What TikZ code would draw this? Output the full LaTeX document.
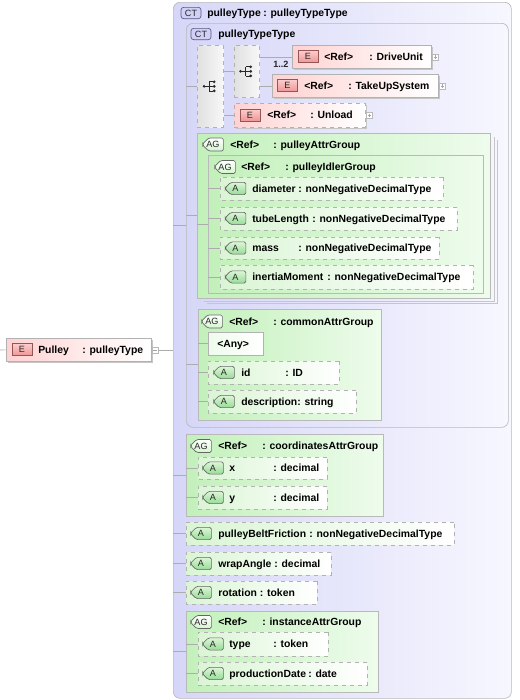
\documentclass[tikz,border=0pt]{standalone}
\usepackage{fontspec}
\setmainfont{Liberation Sans}
\usepackage{tikz}
\usetikzlibrary{shapes.misc, shadows}
\definecolor{ctleft}{RGB}{214,214,248}
\definecolor{ctright}{RGB}{247,247,255}
\definecolor{agleft}{RGB}{194,240,186}
\definecolor{agright}{RGB}{238,252,236}
\definecolor{aleft}{RGB}{218,245,212}
\definecolor{eleft}{RGB}{255,210,210}
\definecolor{ebadgetop}{RGB}{252,205,205}
\definecolor{ebadgebot}{RGB}{238,150,150}
\definecolor{ebadgeline}{RGB}{150,85,85}
\definecolor{abadgetop}{RGB}{220,246,215}
\definecolor{abadgebot}{RGB}{150,220,150}
\definecolor{ctbadgefill}{RGB}{208,208,246}
\definecolor{ctbadgeline}{RGB}{90,90,130}
\definecolor{iconink}{RGB}{40,40,40}
\tikzset{
    boxsize/.style 2 args={anchor=north west, inner sep=0pt, minimum width=#1*0.75pt, minimum height=#2*0.75pt},
    wire/.style={draw=gray!65, line width=0.5pt},
    frame/.style={draw=gray!45, line width=0.5pt},
    txt/.style={anchor=mid west, inner sep=0pt, font=\fontsize{7.8}{9}\selectfont\bfseries, text=black},
    card/.style={anchor=mid west, inner sep=0pt, font=\fontsize{6.8}{8}\selectfont\bfseries, text=black!85},
    ctbox/.style={rectangle, rounded corners=5pt, draw=gray!55, line width=0.5pt, left color=ctleft, right color=ctright},
    agbox/.style={chamfered rectangle, chamfered rectangle corners={north west, south west}, chamfered rectangle xsep=4.5pt, chamfered rectangle ysep=4.5pt, draw=gray!55, line width=0.5pt, left color=agleft, right color=agright},
    abox/.style={chamfered rectangle, chamfered rectangle corners={north west, south west}, chamfered rectangle xsep=2.8pt, chamfered rectangle ysep=4.5pt, draw=gray!60, dashed, line width=0.5pt, left color=aleft, right color=white},
    anybox/.style={abox, solid, left color=agright, right color=white},
    ebox/.style={rectangle, draw=gray!60, line width=0.5pt, left color=eleft, right color=white, drop shadow={shadow xshift=1.1pt, shadow yshift=-1.1pt, fill=gray!45, opacity=1}},
    eboxopt/.style={ebox, dashed},
    seqbox/.style={rectangle, draw=gray!60, dashed, line width=0.5pt, left color=gray!24, right color=gray!6,
        path picture={
            \coordinate (ic) at (path picture bounding box.center);
            \draw[solid, draw=iconink, line width=0.5pt]
                ([xshift=-4.5pt]ic) -- ([xshift=-0.8pt]ic)
                ([xshift=-0.8pt, yshift=3.4pt]ic) -- ([xshift=-0.8pt, yshift=-3.4pt]ic);
            \fill[iconink] ([xshift=-4.7pt]ic) circle (1.1pt);
            \foreach \d in {-3.4,0,3.4} {
                \draw[solid, draw=iconink, line width=0.5pt] ([xshift=-0.8pt, yshift=\d pt]ic) -- ([xshift=2pt, yshift=\d pt]ic);
                \fill[iconink] ([xshift=2.9pt, yshift=\d pt]ic) circle (1.1pt);
            }}},
    ebadge/.style={rectangle, draw=ebadgeline, line width=0.5pt, top color=ebadgetop, bottom color=ebadgebot, minimum width=15pt, minimum height=9pt, inner sep=0pt, font=\fontsize{6.8}{7}\selectfont, text=black!85},
    abadge/.style={chamfered rectangle, chamfered rectangle corners={north west, south west}, chamfered rectangle xsep=2pt, chamfered rectangle ysep=2.5pt, rounded corners=1.2pt, draw=black!60, line width=0.5pt, top color=abadgetop, bottom color=abadgebot, minimum width=15.5pt, minimum height=9pt, inner sep=0pt, font=\fontsize{6.8}{7}\selectfont, text=black!85},
    agbadge/.style={abadge, top color=white, bottom color=agleft!70!white, minimum height=8pt},
    ctbadge/.style={rectangle, rounded corners=2pt, draw=ctbadgeline, line width=0.5pt, fill=ctbadgefill, minimum width=15pt, minimum height=8.5pt, inner sep=0pt, font=\fontsize{6.8}{7}\selectfont, text=black!85},
    expander/.style={rectangle, draw=gray!55, fill=white, line width=0.4pt, minimum size=4.6pt, inner sep=0pt},
    plusbox/.style={expander, path picture={\draw[gray!70, line width=0.4pt] ([xshift=1pt]path picture bounding box.west) -- ([xshift=-1pt]path picture bounding box.east) ([yshift=-1pt]path picture bounding box.north) -- ([yshift=1pt]path picture bounding box.south);}},
    minusbox/.style={expander, path picture={\draw[gray!70, line width=0.4pt] ([xshift=1pt]path picture bounding box.west) -- ([xshift=-1pt]path picture bounding box.east);}}
}
\begin{document}
\begin{tikzpicture}[x=0.75pt, y=-0.75pt]
    \useasboundingbox[fill=white] (0,0) rectangle (520,700);

    % root element
    \coordinate (entry) at (0,350);
    \node[ebox, boxsize={145}{23}] (pulley) at (6,338) {};
    \node[ebadge] (pulleybadge) at (22,349.5) {E};
    \node[txt] (pulleyname) at (38,349.5) {Pulley};
    \node[txt] (pulleytype) at (82,349.5) {: pulleyType};
    \node[minusbox] (pulleyminus) at (155,350) {};

    % complex types
    \node[ctbox, boxsize={338}{696}] (ctouter) at (173,2) {};
    \node[ctbadge] (ctouterbadge) at (191,13) {CT};
    \node[txt] (ctoutername) at (207,13) {pulleyType};
    \node[txt] (ctoutertype) at (263,13) {: pulleyTypeType};

    \node[ctbox, boxsize={322}{404}] (ctinner) at (186,23) {};
    \node[ctbadge] (ctinnerbadge) at (201,34) {CT};
    \node[txt] (ctinnername) at (218,34) {pulleyTypeType};

    % compositors and child elements
    \node[seqbox, boxsize={26}{82}] (seqa) at (197,45) {};
    \node[seqbox, boxsize={25}{52}] (seqb) at (234,45) {};

    \node[ebox, boxsize={139}{23}] (drive) at (292,45) {};
    \node[ebadge] (drivebadge) at (308,56.5) {E};
    \node[txt] (driveref) at (324,56.5) {<Ref>};
    \node[txt] (drivename) at (369,56.5) {: DriveUnit};
    \node[plusbox] (driveplus) at (435.5,57) {};
    \node[card] (drivecard) at (273,63.5) {1..2};

    \node[ebox, boxsize={166}{23}] (takeup) at (272,74) {};
    \node[ebadge] (takeupbadge) at (287.5,85.5) {E};
    \node[txt] (takeupref) at (304,85.5) {<Ref>};
    \node[txt] (takeupname) at (348,85.5) {: TakeUpSystem};
    \node[plusbox] (takeupplus) at (442.5,86) {};

    \node[eboxopt, boxsize={131}{24}] (unload) at (234,103) {};
    \node[ebadge] (unloadbadge) at (250,115) {E};
    \node[txt] (unloadref) at (267,115) {<Ref>};
    \node[txt] (unloadname) at (310,115) {: Unload};
    \node[plusbox] (unloadplus) at (369.5,115.5) {};

    % pulleyAttrGroup
    \draw[frame] (494,137) -- (494,301) -- (204,301);
    \draw[frame] (497,140) -- (497,303.5) -- (207,303.5);
    \node[agbox, boxsize={293}{165}] (pattr) at (197,133) {};
    \node[agbadge] (pattrbadge) at (213,144.5) {AG};
    \node[txt] (pattrref) at (230,144.5) {<Ref>};
    \node[txt] (pattrname) at (273,144.5) {: pulleyAttrGroup};

    \node[agbox, boxsize={275}{138}] (idler) at (208,155) {};
    \node[agbadge] (idlerbadge) at (225,167) {AG};
    \node[txt] (idlerref) at (241,167) {<Ref>};
    \node[txt] (idlername) at (285,167) {: pulleyIdlerGroup};

    \node[abox, boxsize={223}{23}] (diameter) at (220,177) {};
    \node[abadge] at (235.5,188.5) {A};
    \node[txt] at (252,188.5) {diameter};
    \node[txt] at (298,188.5) {: nonNegativeDecimalType};

    \node[abox, boxsize={237}{23}] (tubelength) at (220,207) {};
    \node[abadge] at (235.5,218.5) {A};
    \node[txt] at (252,218.5) {tubeLength};
    \node[txt] at (312,218.5) {: nonNegativeDecimalType};

    \node[abox, boxsize={219}{22}] (mass) at (220,237) {};
    \node[abadge] at (235.5,248) {A};
    \node[txt] at (252,248) {mass};
    \node[txt] at (298,248) {: nonNegativeDecimalType};

    \node[abox, boxsize={253}{24}] (inertia) at (220,265) {};
    \node[abadge] at (235.5,277) {A};
    \node[txt] at (252,277) {inertiaMoment};
    \node[txt] at (327,277) {: nonNegativeDecimalType};

    % commonAttrGroup
    \node[agbox, boxsize={183}{111}] (common) at (198,309) {};
    \node[agbadge] (commonbadge) at (212,321.5) {AG};
    \node[txt] (commonref) at (229,321.5) {<Ref>};
    \node[txt] (commonname) at (273,321.5) {: commonAttrGroup};

    \node[anybox, boxsize={55}{23}] (any) at (208,332) {};
    \node[txt] (anyname) at (217,343.5) {<Any>};

    \node[abox, boxsize={131}{23}] (id) at (208,361) {};
    \node[abadge] at (224,372.5) {A};
    \node[txt] at (241,372.5) {id};
    \node[txt] at (285,372.5) {: ID};

    \node[abox, boxsize={148}{23}] (descr) at (208,390) {};
    \node[abadge] at (224,401.5) {A};
    \node[txt] at (241,401.5) {description};
    \node[txt] at (297,401.5) {: string};

    % coordinatesAttrGroup
    \node[agbox, boxsize={197}{82}] (coords) at (186,434) {};
    \node[agbadge] (coordsbadge) at (201,446) {AG};
    \node[txt] (coordsref) at (218,446) {<Ref>};
    \node[txt] (coordsname) at (262,446) {: coordinatesAttrGroup};

    \node[abox, boxsize={129}{22}] (xattr) at (198,457) {};
    \node[abadge] at (213,468) {A};
    \node[txt] at (229,468) {x};
    \node[txt] at (273,468) {: decimal};

    \node[abox, boxsize={129}{23}] (yattr) at (198,486) {};
    \node[abadge] at (213,497.5) {A};
    \node[txt] at (229,497.5) {y};
    \node[txt] at (273,497.5) {: decimal};

    % plain attributes
    \node[abox, boxsize={268}{23}] (friction) at (186,522) {};
    \node[abadge] at (201,533.5) {A};
    \node[txt] at (218,533.5) {pulleyBeltFriction};
    \node[txt] at (309,533.5) {: nonNegativeDecimalType};

    \node[abox, boxsize={145}{23}] (wrap) at (186,552) {};
    \node[abadge] at (201,563.5) {A};
    \node[txt] at (218,563.5) {wrapAngle : decimal};

    \node[abox, boxsize={131}{23}] (rotation) at (186,581) {};
    \node[abadge] at (201,592.5) {A};
    \node[txt] at (218,592.5) {rotation : token};

    % instanceAttrGroup
    \node[agbox, boxsize={192}{81}] (instance) at (186,611) {};
    \node[agbadge] (instancebadge) at (201,622) {AG};
    \node[txt] (instanceref) at (218,622) {<Ref>};
    \node[txt] (instancename) at (262,622) {: instanceAttrGroup};

    \node[abox, boxsize={130}{24}] (typeattr) at (198,632) {};
    \node[abadge] at (213,644) {A};
    \node[txt] at (229,644) {type};
    \node[txt] at (273,644) {: token};

    \node[abox, boxsize={169}{23}] (proddate) at (198,662) {};
    \node[abadge] at (213,673.5) {A};
    \node[txt] at (229,673.5) {productionDate};
    \node[txt] at (308,673.5) {: date};

    % connectors
    \draw[wire] (entry) -- (pulley.west);
    \draw[wire] (pulleyminus.east) -- (pulleyminus.east -| ctouter.west);
    \foreach \c in {ctinner, coords, friction, wrap, rotation, instance}
        \draw[wire] (ctouter.west |- \c.west) -- (\c.west);
    \foreach \c in {seqa, pattr, common}
        \draw[wire] (ctinner.west |- \c.west) -- (\c.west);
    \foreach \c in {seqb, unload}
        \draw[wire] (seqa.east |- \c.west) -- (\c.west);
    \foreach \c in {drive, takeup}
        \draw[wire] (seqb.east |- \c.west) -- (\c.west);
    \draw[wire] (pattr.west |- idler.west) -- (idler.west);
    \foreach \c in {diameter, tubelength, mass, inertia}
        \draw[wire] (idler.west |- \c.west) -- (\c.west);
    \foreach \c in {any, id, descr}
        \draw[wire] (common.west |- \c.west) -- (\c.west);
    \foreach \c in {xattr, yattr}
        \draw[wire] (coords.west |- \c.west) -- (\c.west);
    \foreach \c in {typeattr, proddate}
        \draw[wire] (instance.west |- \c.west) -- (\c.west);
\end{tikzpicture}
\end{document}
